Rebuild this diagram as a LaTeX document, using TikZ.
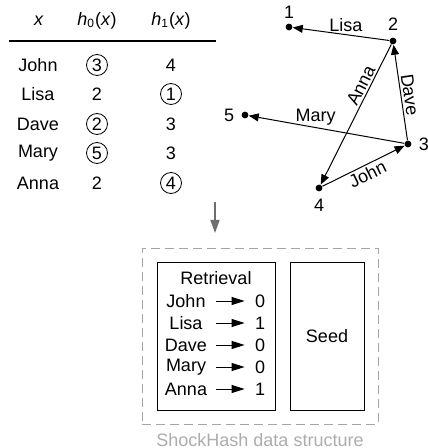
\documentclass[tikz,border=0pt]{standalone}
\usepackage{fontspec}
\setmainfont{Liberation Sans}
\usetikzlibrary{arrows.meta, positioning}

\definecolor{flowgray}{RGB}{110,110,110}
\definecolor{framegray}{RGB}{165,165,165}
\definecolor{capgray}{RGB}{172,172,172}

\tikzset{
  chosen/.style={circle, draw, line width=0.4pt, inner sep=0pt, minimum size=10.5pt},
  other/.style={},
  dot/.style={circle, fill, inner sep=0pt, minimum size=3.4pt},
  edge/.style={line width=0.5pt, -{Triangle[length=5pt, width=4pt]}},
  elabel/.style={inner sep=1pt},
  box/.style={draw, line width=0.5pt, minimum width=59pt, minimum height=74pt, inner sep=0pt},
}

\begin{document}
\begin{tikzpicture}[x=0.5pt, y=0.5pt, every node/.style={font=\fontsize{9}{11}\selectfont}]
  \useasboundingbox (0,0) rectangle (427,-448);

  % hash values
  \node (hx) at (39,-21) {\textit{x}};
  \node (hzero) at (97,-21) {\textit{h}\textsubscript{0}(\textit{x})};
  \node (hone) at (171,-21) {\textit{h}\textsubscript{1}(\textit{x})};
  \draw[line width=0.6pt] (9,-41) -- (216,-41);
  \foreach \i/\name/\a/\sa/\b/\sb/\y in {1/John/3/chosen/4/other/65, 2/Lisa/2/other/1/chosen/94,
      3/Dave/2/chosen/3/other/124, 4/Mary/5/chosen/3/other/153, 5/Anna/2/other/4/chosen/183}{
    \node (key\i) at (38,-\y) {\name};
    \node[\sa] (hz\i) at (97,-\y) {\a};
    \node[\sb] (ho\i) at (171,-\y) {\b};
  }

  % graph
  \node[dot, label={[label distance=-1pt]above:1}] (v1) at (289,-27) {};
  \node[dot, label=above:2] (v2) at (393,-41) {};
  \node[dot, label=right:3] (v3) at (408,-144) {};
  \node[dot, label=below:4] (v4) at (319,-188) {};
  \node[dot, label=left:5] (v5) at (245,-115) {};
  \draw[edge] (v2) -- node[elabel, above, pos=0.45] {Lisa} (v1);
  \draw[edge] (v2) -- node[elabel, above, sloped, pos=0.32] {Anna} (v4);
  \draw[edge] (v3) -- node[elabel, above, sloped, pos=0.46] {Dave} (v2);
  \draw[edge] (v3) -- node[elabel, above, pos=0.57] {Mary} (v5);
  \draw[edge] (v4) -- node[elabel, below, sloped] {John} (v3);

  % arrow down
  \coordinate (flowtop) at (215,-202);
  \coordinate (flowend) at (215,-233);
  \draw[flowgray, line width=0.75pt, -{Triangle[length=6.5pt, width=4.5pt]}] (flowtop) -- (flowend);

  % data structure
  \node[draw=framegray, line width=0.5pt, dash pattern=on 4.5pt off 2.5pt,
        minimum width=118pt, minimum height=88pt] (store) at (260,-336) {};
  \node[box] (retr) at (216,-336) {};
  \node[box, minimum width=37pt, right=7pt of retr] (seed) {Seed};
  \node[capgray, inner sep=0pt, below=4.2pt of store] (cap) {ShockHash data structure};
  \node (rtitle) at (216,-278) {Retrieval};
  \foreach \i/\name/\bit in {1/John/0, 2/Lisa/1, 3/Dave/0, 4/Mary/0, 5/Anna/1}{
    \node[minimum width=30pt, inner sep=0pt] (rname\i) at (186,{-279-22*\i}) {\name};
    \node[minimum width=15pt, inner sep=0pt] (rbit\i) at (260,{-279-22*\i}) {\bit};
    \draw[line width=0.5pt, -{Triangle[length=6.5pt, width=4pt]}] (rname\i) -- (rbit\i);
  }
\end{tikzpicture}
\end{document}
